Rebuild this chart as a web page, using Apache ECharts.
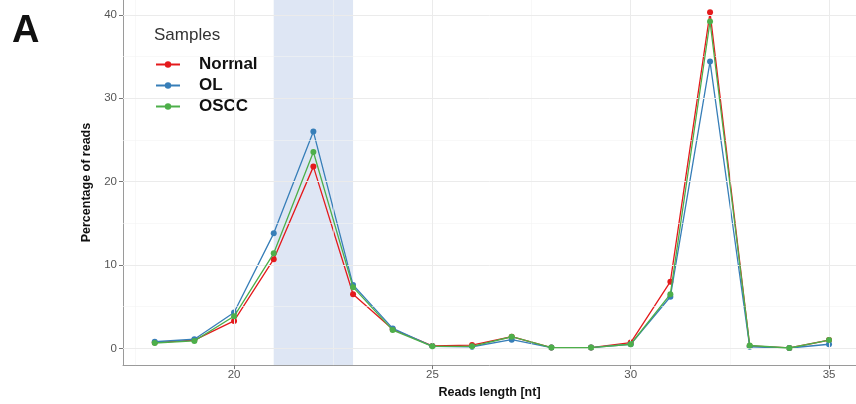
<!DOCTYPE html>
<html>
<head>
<meta charset="utf-8">
<script src="https://cdn.jsdelivr.net/npm/echarts@6/dist/echarts.min.js"></script>
<style>
html,body{margin:0;padding:0;background:#fff;}
#c{width:856px;height:404px;}
</style>
</head>
<body>
<div id="c"></div>
<script>
const lengths = [18,19,20,21,22,23,24,25,26,27,28,29,30,31,32,33,34,35];
const normal = [0.7,1.0,3.3,10.7,21.8,6.5,2.3,0.3,0.4,1.4,0.1,0.1,0.7,8.0,40.3,0.3,0.05,1.0];
const ol     = [0.8,1.1,4.3,13.8,26.0,7.6,2.4,0.25,0.2,1.05,0.1,0.1,0.5,6.2,34.4,0.2,0.05,0.5];
const oscc   = [0.65,0.9,3.85,11.4,23.55,7.35,2.2,0.25,0.25,1.4,0.1,0.1,0.5,6.5,39.2,0.35,0.05,1.0];
const xTicks = [20,25,30,35];
const xMinor = [17.5,22.5,27.5,32.5];
const yTicks = [0,10,20,30,40];
const yMinor = [5,15,25,35];
const band = [21,23];
const seriesNames = ['Normal','OL','OSCC'];
const colors = ['#E41A1C','#377EB8','#4DAF4A'];

const pairs = a => lengths.map((x,i)=>[x,a[i]]);
const chart = echarts.init(document.getElementById('c'));

const gridLines = [];
xMinor.forEach(v=>gridLines.push({xAxis:v,lineStyle:{color:'#f3f3f3',width:0.6,type:'solid'}}));
yMinor.forEach(v=>gridLines.push({yAxis:v,lineStyle:{color:'#f3f3f3',width:0.6,type:'solid'}}));
xTicks.forEach(v=>gridLines.push({xAxis:v,lineStyle:{color:'#ebebeb',width:1,type:'solid'}}));
yTicks.forEach(v=>gridLines.push({yAxis:v,lineStyle:{color:'#ebebeb',width:1,type:'solid'}}));

const lineSeries = seriesNames.map((n,k)=>({
  name:n, type:'line', data:pairs([normal,ol,oscc][k]),
  symbol:'circle', symbolSize:6, showSymbol:true,
  itemStyle:{color:colors[k]},
  lineStyle:{color:colors[k],width:1.3},
  z:3+k
}));

chart.setOption({
  animation:false,
  title:[
    {text:'A',left:7,top:8,textStyle:{fontFamily:'Liberation Sans',fontWeight:'bold',fontSize:38,color:'#111'}},
    {text:'Samples',left:149,top:22,textStyle:{fontFamily:'Liberation Sans',fontWeight:'normal',fontSize:17,color:'#333'}}
  ],
  grid:{left:123,right:0,top:0,bottom:34,containLabel:false},
  legend:{
    data:seriesNames, orient:'vertical', left:150, top:51,
    itemWidth:24, itemHeight:8, itemGap:4,
    textStyle:{fontFamily:'Liberation Sans',fontWeight:'bold',fontSize:17,color:'#111',padding:[0,0,0,14]}
  },
  graphic:[{type:'rect',left:140,top:18,shape:{width:112,height:108},style:{fill:'#fff'},z:1,silent:true}],
  xAxis:{
    type:'value', min:17.2, max:35.68,
    name:'Reads length [nt]', nameLocation:'middle', nameGap:20,
    nameTextStyle:{fontFamily:'Liberation Sans',fontWeight:'bold',fontSize:12.5,color:'#111'},
    axisLine:{show:true,onZero:false,lineStyle:{color:'#9a9a9a',width:1}},
    axisTick:{show:true,length:4,customValues:xTicks,lineStyle:{color:'#777'}},
    axisLabel:{customValues:xTicks,fontFamily:'Liberation Sans',fontSize:11.5,color:'#555',margin:4},
    splitLine:{show:false}
  },
  yAxis:{
    type:'value', min:-2, max:41.78,
    name:'Percentage of reads', nameLocation:'middle', nameGap:30,
    nameTextStyle:{fontFamily:'Liberation Sans',fontWeight:'bold',fontSize:12.5,color:'#111'},
    axisLine:{show:true,onZero:false,lineStyle:{color:'#9a9a9a',width:1}},
    axisTick:{show:true,length:4,customValues:yTicks,lineStyle:{color:'#777'}},
    axisLabel:{customValues:yTicks,fontFamily:'Liberation Sans',fontSize:11.5,color:'#555',margin:6},
    splitLine:{show:false}
  },
  series:[
    {type:'line',data:[],silent:true,z:0,
     markLine:{silent:true,symbol:['none','none'],label:{show:false},data:gridLines,animation:false},
     markArea:{silent:true,itemStyle:{color:'rgba(200,214,236,0.6)'},data:[[{xAxis:band[0]},{xAxis:band[1]}]]}
    },
    ...lineSeries
  ]
});
</script>
</body>
</html>
